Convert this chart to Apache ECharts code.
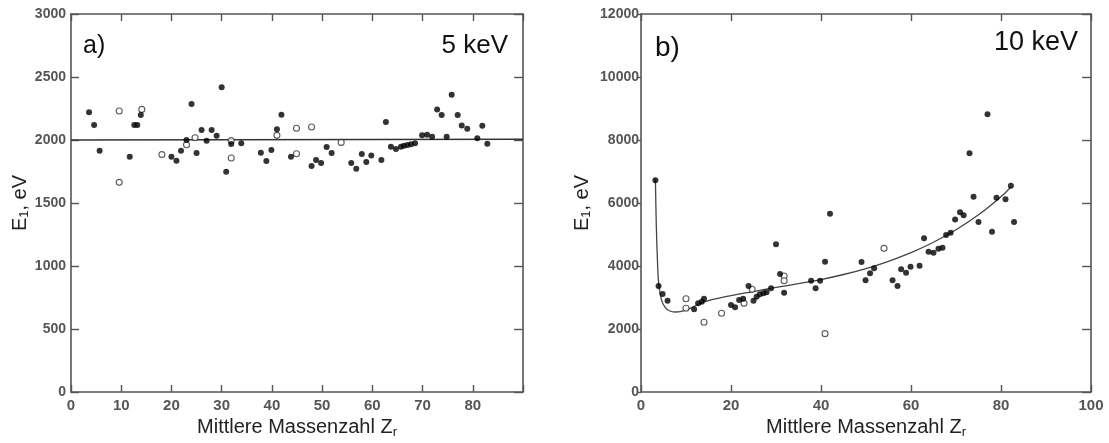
<!DOCTYPE html>
<html>
<head>
<meta charset="utf-8">
<script src="https://cdn.jsdelivr.net/npm/echarts@6/dist/echarts.min.js"></script>
<style>
html,body{margin:0;padding:0;background:#fff;}
#c{width:1109px;height:443px;}
</style>
</head>
<body>
<div id="c"></div>
<script>
// ---- Data ----
// Panel a) 5 keV
const aFilled = [[3.6,2220],[4.6,2119],[5.7,1915],[11.7,1868],[12.6,2119],[13.2,2119],[13.9,2198],
  [20.0,1868],[21.0,1836],[21.9,1915],[23.0,2000],[24.0,2286],[25.0,1897],[26.0,2079],[27.0,1995],
  [28.0,2079],[29.0,2034],[30.0,2418],[30.9,1749],[31.9,1968],[33.9,1974],[37.8,1899],[38.9,1833],
  [39.9,1921],[41.0,2085],[41.9,2201],[43.8,1868],[47.9,1794],[48.8,1841],[49.8,1817],[50.9,1944],
  [51.9,1897],[55.8,1817],[56.8,1772],[57.9,1889],[58.8,1825],[59.8,1876],[61.8,1841],[62.7,2143],
  [63.7,1947],[64.7,1929],[65.7,1947],[66.3,1955],[67.0,1960],[67.7,1966],[68.5,1974],[69.9,2037],
  [70.9,2042],[71.9,2026],[72.9,2243],[73.8,2198],[74.8,2026],[75.8,2360],[77.0,2198],[77.8,2116],
  [78.9,2090],[80.9,2013],[81.9,2114],[82.9,1971]];
const aOpen = [[9.6,2230],[9.6,1664],[14.1,2243],[18.1,1884],[23.0,1962],[24.7,2018],[31.9,1995],
  [31.9,1857],[41.0,2037],[44.9,1891],[44.9,2093],[47.9,2103],[53.8,1981]];
const aLine = [[0,2000],[90,2006]];

// Panel b) 10 keV
const bFilled = [[3.2,6720],[3.9,3365],[4.8,3111],[5.9,2898],[11.8,2625],[12.7,2815],[13.5,2867],
  [14.0,2962],[20.0,2762],[20.9,2688],[21.8,2921],[22.7,2962],[23.9,3365],[25.0,2898],[25.7,3026],
  [26.4,3101],[27.2,3133],[27.9,3165],[28.9,3291],[30.0,4689],[30.9,3746],[31.8,3152],[37.8,3534],
  [38.8,3291],[39.8,3534],[40.9,4137],[42.0,5660],[49.0,4127],[49.9,3545],[50.9,3767],[51.8,3926],
  [55.9,3545],[57.0,3365],[57.8,3894],[58.9,3788],[59.9,3979],[61.9,4011],[62.9,4878],[63.9,4455],
  [65.0,4423],[66.1,4550],[67.0,4582],[67.8,4984],[68.8,5058],[69.8,5480],[70.9,5710],[71.7,5610],
  [73.0,7577],[73.9,6201],[75.0,5397],[77.0,8815],[78.0,5090],[79.0,6169],[81.0,6116],[82.2,6550],
  [82.9,5397]];
const bOpen = [[10.0,2962],[10.0,2657],[14.0,2212],[17.9,2498],[22.9,2815],[24.7,3260],[31.8,3683],
  [31.8,3534],[40.9,1852],[54.0,4561]];
const bCurve = [[3.2,6750],[3.4,5300],[3.65,4200],[3.95,3400],[4.6,2900],[5.4,2680],[6.3,2580],
  [7.5,2540],[9,2560],[11,2660],[13,2800],[15,2900],[20,3060],[25,3190],[30,3320],[35,3440],
  [40,3570],[45,3730],[50,3920],[55,4150],[60,4425],[65,4755],[70,5150],[75,5625],[80,6200],[82.2,6510]];

// Axis settings / texts
const xNameText = '{n|Mittlere Massenzahl Z}{s|r}';
const yNameText = '{n|E}{s|1}{n|, eV}';
const panelLabels = ['a)', '5 keV', 'b)', '10 keV'];

// ---- Chart ----
const FONT = '"Liberation Sans", Arial, Helvetica, sans-serif';
const axisCol = '#555';
const lblStyle = {color:'#555', fontSize:14, fontWeight:'bold', fontFamily:FONT};
const nameRich = {
  n:{fontSize:20, color:'#222', fontFamily:FONT},
  s:{fontSize:13, color:'#222', fontFamily:FONT, padding:[10,0,0,0]}
};
const yNameRich = {
  n:{fontSize:20, color:'#222', fontFamily:FONT},
  s:{fontSize:13, color:'#222', fontFamily:FONT, padding:[8,0,0,0]}
};

function xAxes(gi, max, interval){
  return [{
    type:'value', gridIndex:gi, min:0, max:max, interval:interval, position:'bottom',
    name:xNameText, nameLocation:'middle', nameGap:24,
    nameTextStyle:{rich:nameRich},
    axisLine:{show:true, onZero:false, lineStyle:{color:axisCol, width:1.6}},
    axisTick:{show:true, inside:true, length:7, lineStyle:{color:axisCol, width:1.4}},
    axisLabel:{...lblStyle, fontSize:15, margin:6, formatter:v => (v===90 ? '' : String(v))},
    splitLine:{show:false}
  },{
    type:'value', gridIndex:gi, min:0, max:max, interval:interval, position:'top',
    axisLine:{show:true, onZero:false, lineStyle:{color:axisCol, width:1.6}},
    axisTick:{show:true, inside:true, length:7, lineStyle:{color:axisCol, width:1.4}},
    axisLabel:{show:false}, splitLine:{show:false}
  }];
}
function yAxes(gi, max, interval, inside, gap){
  return [{
    type:'value', gridIndex:gi, min:0, max:max, interval:interval, position:'left',
    name:yNameText, nameLocation:'middle', nameRotate:90, nameGap:gap,
    nameTextStyle:{rich:yNameRich},
    axisLine:{show:true, onZero:false, lineStyle:{color:axisCol, width:1.6}},
    axisTick:{show:true, inside:inside, length:inside?8:4, lineStyle:{color:axisCol, width:1.4}},
    axisLabel:{...lblStyle, margin: inside?5:2, formatter:v => String(v)},
    splitLine:{show:false}
  },{
    type:'value', gridIndex:gi, min:0, max:max, interval:interval, position:'right',
    axisLine:{show:true, onZero:false, lineStyle:{color:axisCol, width:1.6}},
    axisTick:{show:true, inside:true, length:9, lineStyle:{color:axisCol, width:1.4}},
    axisLabel:{show:false}, splitLine:{show:false}
  }];
}

const filledStyle = {color:'#000'};
const openStyle = {color:'#fff', borderColor:'#333', borderWidth:1.1};

const chart = echarts.init(document.getElementById('c'), null, {renderer:'canvas'});
chart.setOption({
  backgroundColor:'#fff',
  animation:false,
  grid:[
    {left:71, top:14, width:452, height:378, containLabel:false, outerBoundsMode:'none'},
    {left:641, top:14, width:450, height:378, containLabel:false, outerBoundsMode:'none'}
  ],
  xAxis:[...xAxes(0, 90, 10), ...xAxes(1, 100, 20)],
  yAxis:[...yAxes(0, 3000, 500, true, 40), ...yAxes(1, 12000, 2000, false, 48)],
  series:[
    {type:'line', xAxisIndex:0, yAxisIndex:0, data:aLine, symbol:'none',
      lineStyle:{color:'#333', width:1.5}, z:1},
    {type:'scatter', xAxisIndex:0, yAxisIndex:0, data:aFilled, symbol:'circle', symbolSize:6,
      itemStyle:filledStyle, z:3},
    {type:'scatter', xAxisIndex:0, yAxisIndex:0, data:aOpen, symbol:'circle', symbolSize:6,
      itemStyle:openStyle, z:2},
    {type:'line', xAxisIndex:2, yAxisIndex:2, data:bCurve, symbol:'none', smooth:0.4,
      lineStyle:{color:'#444', width:1.3}, z:1},
    {type:'scatter', xAxisIndex:2, yAxisIndex:2, data:bFilled, symbol:'circle', symbolSize:6,
      itemStyle:filledStyle, z:3},
    {type:'scatter', xAxisIndex:2, yAxisIndex:2, data:bOpen, symbol:'circle', symbolSize:6,
      itemStyle:openStyle, z:2}
  ],
  graphic:[
    {type:'text', x:83, y:46, style:{text:panelLabels[0], font:'25px '+FONT, fill:'#111', textVerticalAlign:'middle'}},
    {type:'text', x:508, y:46, style:{text:panelLabels[1], font:'26px '+FONT, fill:'#111', textAlign:'right', textVerticalAlign:'middle'}},
    {type:'text', x:655, y:48, style:{text:panelLabels[2], font:'28px '+FONT, fill:'#111', textVerticalAlign:'middle'}},
    {type:'text', x:1078, y:43, style:{text:panelLabels[3], font:'27px '+FONT, fill:'#111', textAlign:'right', textVerticalAlign:'middle'}}
  ]
});
</script>
</body>
</html>
